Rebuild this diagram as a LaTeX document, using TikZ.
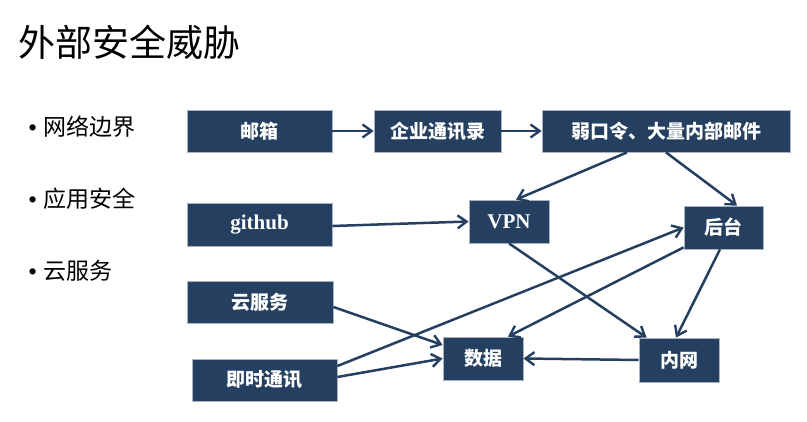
\documentclass[tikz,border=0pt]{standalone}
\usepackage{fontspec}
\setmainfont{Liberation Serif}
\newfontfamily\cjk{Noto Sans CJK SC}
\usepackage{xcolor}
\usepackage{tikz}
\usetikzlibrary{arrows.meta,positioning,calc}
\definecolor{threatNavy}{HTML}{243F60}
\definecolor{threatEdge}{HTML}{A9B4C2}
\tikzset{
  threatbox/.style={rectangle, draw=threatEdge, line width=0.8pt, fill=threatNavy,
    text=white, align=center, inner sep=2pt,
    font=\cjk\bfseries\fontsize{19}{22}\selectfont},
  latinbox/.style={threatbox, font=\bfseries\fontsize{21}{24}\selectfont},
  threatline/.style={-{Straight Barb[length=9pt,width=13pt,line width=2.4pt]},
    draw=threatNavy, line width=2.5pt},
  bulletitem/.style={anchor=west, font=\cjk\fontsize{23}{26}\selectfont, inner sep=0pt}
}
\newcommand{\threatdot}{\raisebox{-1pt}{\rmfamily\fontsize{26}{26}\selectfont\textbullet}\hspace{6pt}}

\begin{document}
\begin{tikzpicture}[x=1pt, y=-1pt]
\useasboundingbox (0,0) rectangle (807,422);
% title and bullet list
\node[anchor=west, inner sep=0pt, font=\cjk\fontsize{37}{42}\selectfont] (title) at (18,42) {外部安全威胁};
\node[bulletitem] (b1) at (28,127) {\threatdot 网络边界};
\node[bulletitem] (b2) at (28,199) {\threatdot 应用安全};
\node[bulletitem] (b3) at (28,271) {\threatdot 云服务};

% boxes
\node[threatbox, minimum width=145pt, minimum height=42pt] (mail) at (259.5,131) {邮箱};
\node[threatbox, minimum width=127pt, minimum height=42pt] (contacts) at (437.5,131) {企业通讯录};
\node[threatbox, minimum width=248pt, minimum height=42pt] (weakpw) at (666,131) {弱口令、大量内部邮件};
\node[latinbox, minimum width=145pt, minimum height=43pt] (github) at (259.5,224.5) {github};
\node[latinbox, minimum width=80pt, minimum height=43pt] (vpn) at (509,221.5) {VPN};
\node[threatbox, minimum width=79pt, minimum height=43pt] (backend) at (723.5,227.5) {后台};
\node[threatbox, minimum width=146pt, minimum height=42pt] (cloud) at (260,302) {云服务};
\node[threatbox, minimum width=145pt, minimum height=42pt] (im) at (264.5,380) {即时通讯};
\node[threatbox, minimum width=80pt, minimum height=43pt] (data) at (483,358.5) {数据};
\node[threatbox, minimum width=80pt, minimum height=44pt] (intranet) at (679,360) {内网};

% connectors
\draw[threatline] (mail) -- (contacts);
\draw[threatline] (contacts) -- (weakpw);
\draw[threatline] ([xshift=-39pt]weakpw.south) -- ([xshift=7pt]vpn.north);
\draw[threatline] (weakpw.south) -- ([xshift=13.5pt]backend.north);
\draw[threatline] ([yshift=-1.5pt]github.east) -- (vpn.west);
\draw[threatline] (vpn.south) -- ([xshift=8pt]intranet.north west);
\draw[threatline] ([yshift=14pt]im.east) -- (backend.west);
\draw[threatline] ([yshift=2pt]backend.south west) -- ([xshift=25pt]data.north);
\draw[threatline] ([xshift=-3.5pt]backend.south) -- ([xshift=-3pt]intranet.north);
\draw[threatline] ([yshift=-5pt]cloud.east) -- ([yshift=13.5pt]data.west);
\draw[threatline] ([yshift=3pt]im.east) -- (data.west);
\draw[threatline] (intranet.west) -- (data.east);
\end{tikzpicture}
\end{document}
